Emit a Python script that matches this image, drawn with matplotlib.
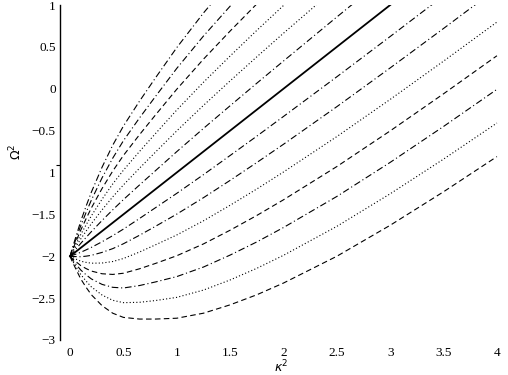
import matplotlib
matplotlib.use("Agg")
import matplotlib.pyplot as plt

# kappa^2 sample positions
kappa2 = [0, 0.02, 0.05, 0.1, 0.15, 0.2, 0.3, 0.4, 0.5, 0.65, 0.8, 1.0,
          1.25, 1.5, 1.75, 2.0, 2.5, 3.0, 3.5, 4.0]

# Omega^2 for each curve, top (steepest) to bottom
om_m6 = [-2, -1.911, -1.787, -1.583, -1.404, -1.234, -0.937, -0.674, -0.446, -0.15, 0.129, 0.491, 0.904, 1.283]
om_m5 = [-2, -1.923, -1.814, -1.636, -1.479, -1.329, -1.064, -0.829, -0.621, -0.35, -0.093, 0.243, 0.629, 0.986, 1.329]
om_m4 = [-2, -1.934, -1.841, -1.689, -1.553, -1.423, -1.191, -0.983, -0.797, -0.55, -0.314, -0.006, 0.353, 0.689, 1.013]
om_m3 = [-2, -1.946, -1.869, -1.741, -1.627, -1.517, -1.319, -1.137, -0.973, -0.75, -0.536, -0.254, 0.077, 0.391, 0.697, 0.994, 1.571]
om_m2 = [-2, -1.957, -1.896, -1.794, -1.701, -1.611, -1.446, -1.291, -1.149, -0.95, -0.757, -0.503, -0.199, 0.094, 0.381, 0.663, 1.214]
om_m1 = [-2, -1.969, -1.923, -1.847, -1.776, -1.706, -1.573, -1.446, -1.324, -1.15, -0.979, -0.751, -0.474, -0.203, 0.066, 0.331, 0.857, 1.376]
om_0 = [-2, -1.98, -1.95, -1.9, -1.85, -1.8, -1.7, -1.6, -1.5, -1.35, -1.2, -1.0, -0.75, -0.5, -0.25, 0.0, 0.5, 1.0]
om_p1 = [-2, -1.991, -1.977, -1.953, -1.924, -1.894, -1.827, -1.754, -1.676, -1.55, -1.421, -1.249, -1.026, -0.797, -0.566, -0.331, 0.143, 0.624, 1.11, 1.599]
om_p2 = [-2, -2.003, -2.004, -2.006, -1.999, -1.989, -1.954, -1.909, -1.851, -1.75, -1.643, -1.497, -1.301, -1.094, -0.881, -0.663, -0.214, 0.249, 0.72, 1.197]
om_p3 = [-2, -2.014, -2.031, -2.059, -2.073, -2.083, -2.081, -2.063, -2.027, -1.95, -1.864, -1.746, -1.577, -1.391, -1.197, -0.994, -0.571, -0.127, 0.33, 0.796]
om_p4 = [-2, -2.026, -2.059, -2.111, -2.147, -2.177, -2.209, -2.217, -2.203, -2.15, -2.086, -1.994, -1.853, -1.689, -1.513, -1.326, -0.929, -0.503, -0.06, 0.394]
om_p5 = [-2, -2.037, -2.086, -2.164, -2.221, -2.271, -2.336, -2.371, -2.379, -2.35, -2.307, -2.243, -2.129, -1.986, -1.829, -1.657, -1.286, -0.879, -0.45, -0.007]
om_p6 = [-2, -2.049, -2.113, -2.217, -2.296, -2.366, -2.463, -2.526, -2.554, -2.55, -2.529, -2.491, -2.404, -2.283, -2.144, -1.989, -1.643, -1.254, -0.84, -0.409]
om_p7 = [-2, -2.06, -2.14, -2.27, -2.37, -2.46, -2.59, -2.68, -2.73, -2.75, -2.75, -2.74, -2.68, -2.58, -2.46, -2.32, -2.0, -1.63, -1.23, -0.81]

curves = [om_m6, om_m5, om_m4, om_m3, om_m2, om_m1, om_0,
          om_p1, om_p2, om_p3, om_p4, om_p5, om_p6, om_p7]

ytick_vals = [1, 0.5, 0, -0.5, -1, -1.5, -2, -2.5, -3]
ytick_labels = ["1", "0.5", "0", "\u22120.5", "1", "\u22121.5", "\u22122", "\u22122.5", "\u22123"]
xtick_vals = [0, 0.5, 1, 1.5, 2, 2.5, 3, 3.5, 4]
xtick_labels = ["0", "0.5", "1", "1.5", "2", "2.5", "3", "3.5", "4"]

DD = (0, (6, 2.5, 1, 2.5))
DA = (0, (5, 3))
DO = (0, (1, 2))
styles = [DD, DD, DA, DO, DO, DD, "-", DD, DD, DO, DA, DD, DO, DA]

plt.rcParams["font.family"] = ["Liberation Serif", "DejaVu Serif"]

fig = plt.figure(figsize=(5.08, 3.75), dpi=100)
ax = fig.add_axes([60 / 508, 35 / 375, 438 / 508, 335 / 375])

for ys, ls in zip(curves, styles):
    lw = 1.3 if ls == "-" else 0.8
    ax.plot(kappa2[:len(ys)], ys, color="black", linestyle=ls, linewidth=lw)

ax.set_xlim(-0.094, 4.01)
ax.set_ylim(-3, 1)
for s in ["top", "right", "bottom"]:
    ax.spines[s].set_visible(False)
ax.spines["left"].set_linewidth(1.0)

ax.set_yticks(ytick_vals)
ax.set_yticklabels(ytick_labels, fontsize=9.5)
ax.set_xticks(xtick_vals)
ax.set_xticklabels(xtick_labels, fontsize=9.5)
ax.tick_params(axis="y", length=0, pad=3)
ax.tick_params(axis="x", length=0, pad=5)
ax.set_yticks([-0.5, -0.91], minor=True)
ax.tick_params(axis="y", which="minor", length=3, width=0.8, direction="out")

fig.text(281 / 508, 1 - 367 / 375, r"$\kappa^2$", fontsize=9, ha="center", va="center")
fig.text(16 / 508, 1 - 152 / 375, r"$\Omega^2$", fontsize=9, rotation=90, ha="center", va="center")

fig.savefig("out.png", dpi=100)
